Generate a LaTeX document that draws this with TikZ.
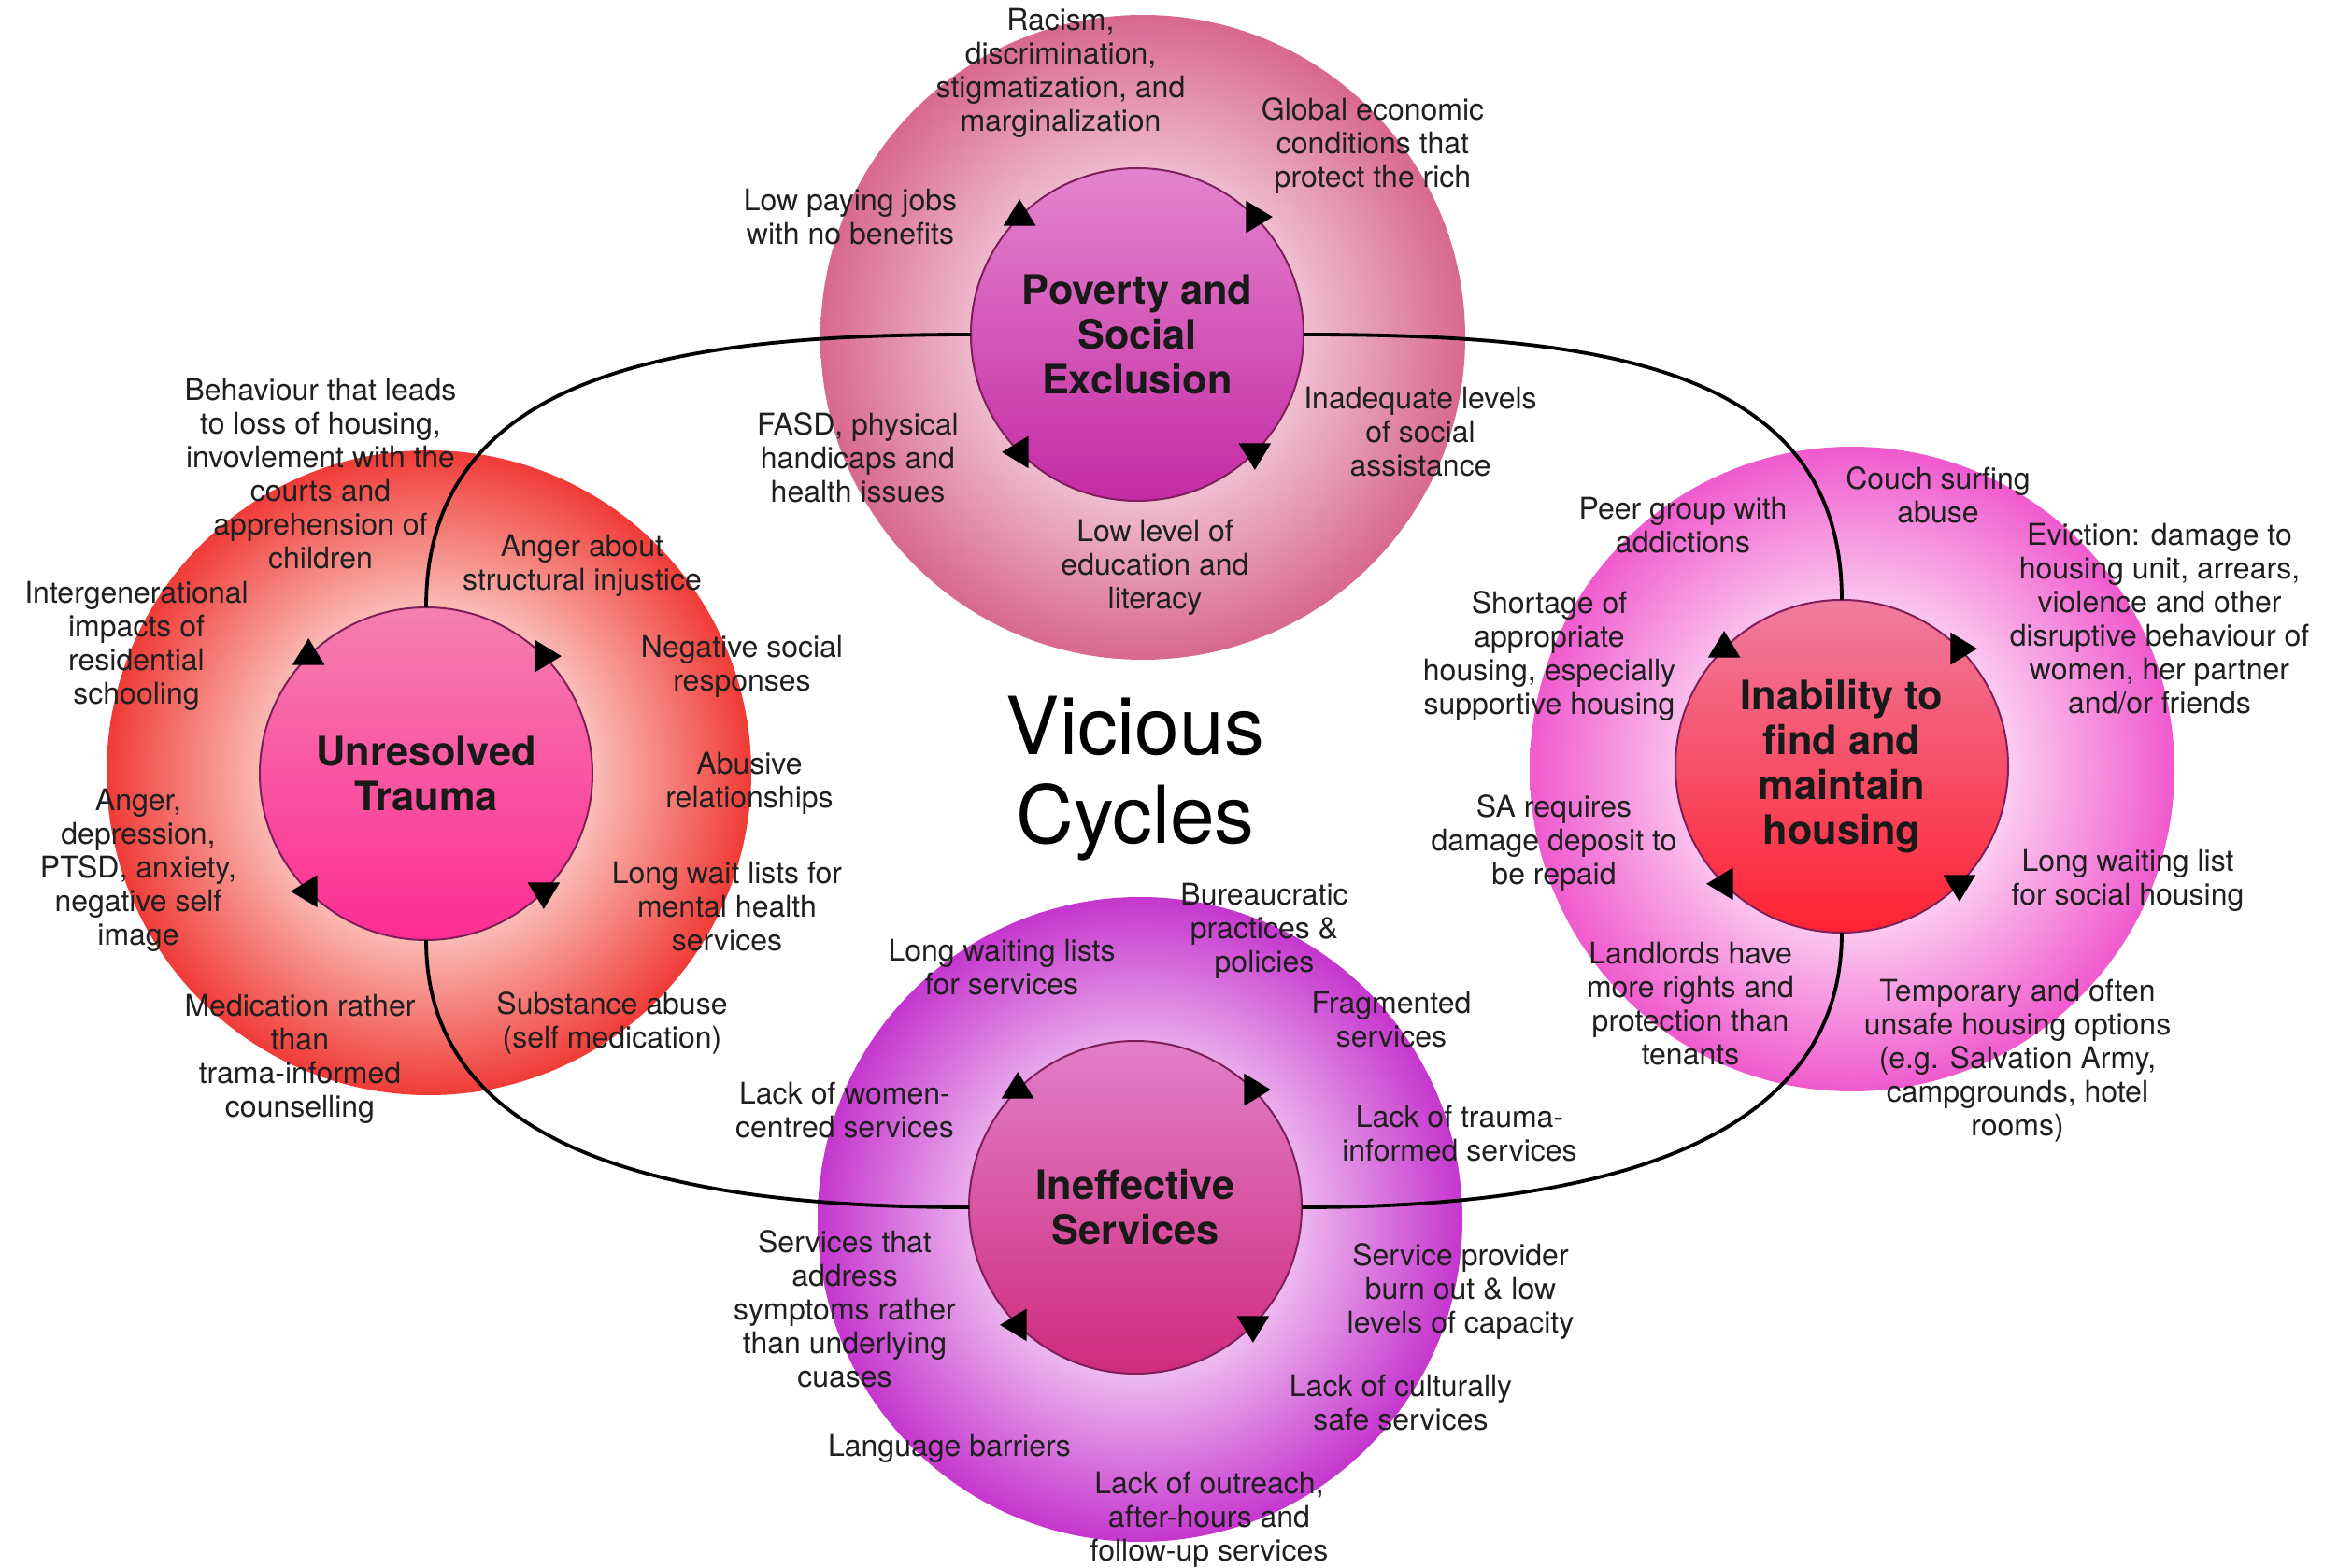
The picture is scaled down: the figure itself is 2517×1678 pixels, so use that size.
\documentclass[tikz,border=0pt]{standalone}
\usepackage{fontspec}
\setmainfont{TeX Gyre Heros}
\definecolor{povA}{HTML}{F6D6E2}
\definecolor{povB}{HTML}{D8688F}
\definecolor{trA}{HTML}{FDE4DE}
\definecolor{trB}{HTML}{F03B37}
\definecolor{hoA}{HTML}{FEE8F8}
\definecolor{hoB}{HTML}{F05ACE}
\definecolor{seA}{HTML}{F7D9F7}
\definecolor{seB}{HTML}{C536CE}
\definecolor{rimline}{HTML}{7E1F5A}
\definecolor{pinT}{HTML}{E384CE}
\definecolor{pinM}{HTML}{D83CC8}
\definecolor{pinB}{HTML}{C52AA4}
\definecolor{tinT}{HTML}{F57FB0}
\definecolor{tinM}{HTML}{F65BB8}
\definecolor{tinB}{HTML}{FD2C94}
\definecolor{hinT}{HTML}{F07C9E}
\definecolor{hinM}{HTML}{F5506A}
\definecolor{hinB}{HTML}{FE2232}
\definecolor{sinT}{HTML}{E27FC8}
\definecolor{sinM}{HTML}{DA4FA8}
\definecolor{sinB}{HTML}{CF2A7E}
\pgfdeclareradialshading{povout}{\pgfpointorigin}{color(0bp)=(povA); color(9bp)=(povA); color(25bp)=(povB); color(50bp)=(povB)}
\pgfdeclareradialshading{trout}{\pgfpointorigin}{color(0bp)=(trA); color(9bp)=(trA); color(25bp)=(trB); color(50bp)=(trB)}
\pgfdeclareradialshading{hoout}{\pgfpointorigin}{color(0bp)=(hoA); color(9bp)=(hoA); color(25bp)=(hoB); color(50bp)=(hoB)}
\pgfdeclareradialshading{seout}{\pgfpointorigin}{color(0bp)=(seA); color(9bp)=(seA); color(25bp)=(seB); color(50bp)=(seB)}
\tikzset{
  outerdisc/.style={circle, minimum size=207pt, inner sep=0pt, outer sep=0pt, draw=none},
  innerdisc/.style={circle, minimum size=106.8pt, inner sep=0pt, outer sep=0pt, draw=rimline, line width=0.6pt,
     align=center, font=\fontsize{13}{14.4}\selectfont\bfseries, text=black!90},
  conn/.style={line width=1.15pt, black},
  lbl/.style={align=center, font=\fontsize{9.6}{10.8}\selectfont, text=black!88, inner sep=0pt},
  ttl/.style={align=center, font=\fontsize{25.7}{28.5}\selectfont, text=black, inner sep=0pt}
}
\newcommand{\cyclearrows}[1]{%
  \foreach \a in {135,45,-45,-135}{%
    \fill[black, shift={(#1.\a)}, rotate=\a-45] (5.7pt,0pt) -- (-2.85pt,5.2pt) -- (-2.85pt,-5.2pt) -- cycle;
  }%
}
\begin{document}
\begin{tikzpicture}[x=0.3pt,y=-0.3pt]
\useasboundingbox (0,0) rectangle (2517,1678);
\fill[white] (0,0) rectangle (2517,1678);
% outer discs
\node[outerdisc, shading=povout] (Pout) at (1223,361) {};
\node[outerdisc, shading=trout] (Tout) at (459,827) {};
\node[outerdisc, shading=hoout] (Hout) at (1982,823) {};
\node[outerdisc, shading=seout] (Sout) at (1220,1305) {};
% inner discs
\node[innerdisc, top color=pinT, middle color=pinM, bottom color=pinB] (Pin) at (1217,358) {Poverty and\\Social\\Exclusion};
\node[innerdisc, top color=tinT, middle color=tinM, bottom color=tinB] (Tin) at (456,828) {Unresolved\\Trauma};
\node[innerdisc, top color=hinT, middle color=hinM, bottom color=hinB] (Hin) at (1971,820) {Inability to\\find and\\maintain\\housing};
\node[innerdisc, top color=sinT, middle color=sinM, bottom color=sinB] (Sin) at (1215,1292) {Ineffective\\Services};
% connectors
\draw[conn] (Tin.north) .. controls +(0,-250) and +(-320,0) .. (Pin.west);
\draw[conn] (Pin.east) .. controls +(320,0) and +(0,-250) .. (Hin.north);
\draw[conn] (Hin.south) .. controls +(0,230) and +(310,0) .. (Sin.east);
\draw[conn] (Sin.west) .. controls +(-310,0) and +(0,230) .. (Tin.south);
% cycle arrowheads
\cyclearrows{Pin}
\cyclearrows{Tin}
\cyclearrows{Hin}
\cyclearrows{Sin}
% title
\node[ttl] (title) at (1215,833) {Vicious\\Cycles};
% poverty labels
\node[lbl] (t1) at (1135,78) {Racism,\\discrimination,\\stigmatization, and\\marginalization};
\node[lbl] (t2) at (1469,156) {Global economic\\conditions that\\protect the rich};
\node[lbl] (t3) at (910,232) {Low paying jobs\\with no benefits};
\node[lbl] (t4) at (918,490) {FASD, physical\\handicaps and\\health issues};
\node[lbl] (t5) at (1520,462) {Inadequate levels\\of social\\assistance};
\node[lbl] (t6) at (1236,607) {Low level of\\education and\\literacy};
% trauma labels
\node[lbl] (t7) at (343,507) {Behaviour that leads\\to loss of housing,\\invovlement with the\\courts and\\apprehension of\\children};
\node[lbl] (t8) at (623,605) {Anger about\\structural injustice};
\node[lbl] (t9) at (146,691) {Intergenerational\\impacts of\\residential\\schooling};
\node[lbl] (t10) at (794,713) {Negative social\\responses};
\node[lbl] (t11) at (802,838) {Abusive\\relationships};
\node[lbl] (t12) at (148,931) {Anger,\\depression,\\PTSD, anxiety,\\negative self\\image};
\node[lbl] (t13) at (778,970) {Long wait lists for\\mental health\\services};
\node[lbl] (t14) at (321,1133) {Medication rather\\than\\trama-informed\\counselling};
\node[lbl] (t15) at (655,1095) {Substance abuse\\(self medication)};
% housing labels
\node[lbl] (t16) at (1801,562) {Peer group with\\addictions};
\node[lbl] (t17) at (2074,530) {Couch surfing\\abuse};
\node[lbl] (t18) at (2311,662) {Eviction: damage to\\housing unit, arrears,\\violence and other\\disruptive behaviour of\\women, her partner\\and/or friends};
\node[lbl] (t19) at (1658,702) {Shortage of\\appropriate\\housing, especially\\supportive housing};
\node[lbl] (t20) at (1663,902) {SA requires\\damage deposit to\\be repaid};
\node[lbl] (t21) at (2277,942) {Long waiting list\\for social housing};
\node[lbl] (t22) at (1809,1074) {Landlords have\\more rights and\\protection than\\tenants};
\node[lbl] (t23) at (2159,1135) {Temporary and often\\unsafe housing options\\(e.g. Salvation Army,\\campgrounds, hotel\\rooms)};
% services labels
\node[lbl] (t24) at (1353,996) {Bureaucratic\\practices \&\\policies};
\node[lbl] (t25) at (1072,1035) {Long waiting lists\\for services};
\node[lbl] (t26) at (1489,1091) {Fragmented\\services};
\node[lbl] (t27) at (904,1188) {Lack of women-\\centred services};
\node[lbl] (t28) at (1562,1213) {Lack of trauma-\\informed services};
\node[lbl] (t29) at (904,1401) {Services that\\address\\symptoms rather\\than underlying\\cuases};
\node[lbl] (t30) at (1563,1382) {Service provider\\burn out \& low\\levels of capacity};
\node[lbl] (t31) at (1499,1501) {Lack of culturally\\safe services};
\node[lbl] (t32) at (1016,1550) {Language barriers};
\node[lbl] (t33) at (1294,1626) {Lack of outreach,\\after-hours and\\follow-up services};
\end{tikzpicture}
\end{document}
